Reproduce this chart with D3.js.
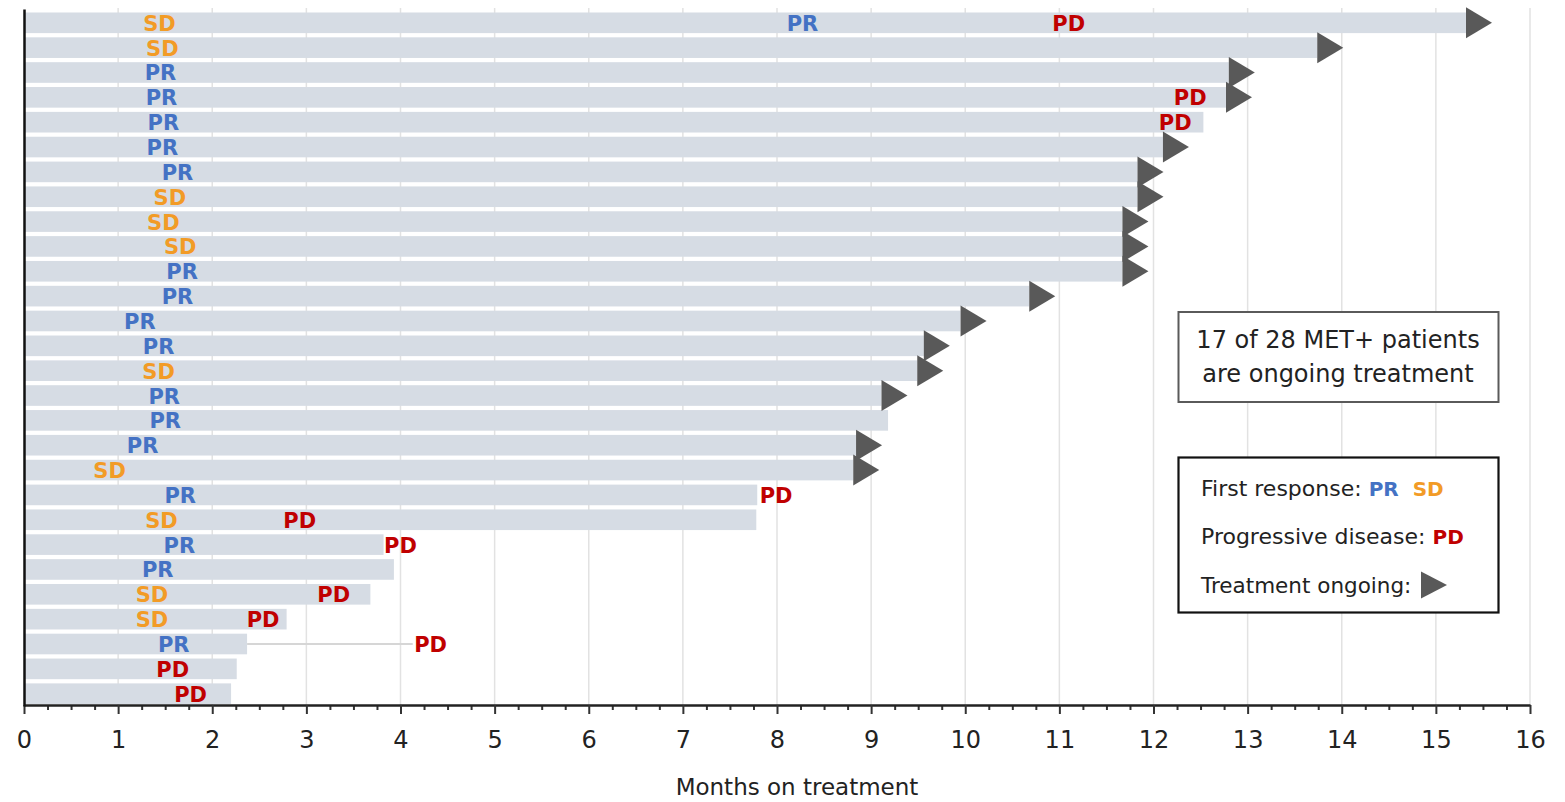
<!DOCTYPE html>
<html>
<head>
<meta charset="utf-8">
<script src="https://cdn.jsdelivr.net/npm/d3@7"></script>
<style>
  body { margin: 0; background: #fff; }
  svg { display: block; }
  text { font-family: "DejaVu Sans", sans-serif; }
</style>
</head>
<body>
<svg id="chart" width="1565" height="802"></svg>
<script>
// Swimmer plot: one row per MET+ patient, ordered by time on treatment.
const patients = d3.range(1, 29);

const monthsOnTreatment = [15.32, 13.74, 12.80, 12.77, 12.53, 12.10, 11.83, 11.83, 11.67, 11.67,
                           11.67, 10.68, 9.95, 9.56, 9.49, 9.11, 9.18, 8.84, 8.81, 7.79,
                           7.78, 3.82, 3.93, 3.68, 2.79, 2.37, 2.26, 2.20];

const ongoing = [true, true, true, true, false, true, true, true, true, true,
                 true, true, true, true, true, true, false, true, true, false,
                 false, false, false, false, false, false, false, false];

const firstResponse = ["SD", "SD", "PR", "PR", "PR", "PR", "PR", "SD", "SD", "SD",
                       "PR", "PR", "PR", "PR", "SD", "PR", "PR", "PR", "SD", "PR",
                       "SD", "PR", "PR", "SD", "SD", "PR", null, null];

const firstResponseMonth = [1.44, 1.47, 1.45, 1.46, 1.48, 1.47, 1.63, 1.55, 1.48, 1.66,
                            1.68, 1.63, 1.23, 1.43, 1.43, 1.49, 1.50, 1.26, 0.91, 1.66,
                            1.46, 1.65, 1.42, 1.36, 1.36, 1.59, null, null];

// Deepened response after initial stable disease
const laterResponse = ["PR", null, null, null, null, null, null, null, null, null,
                       null, null, null, null, null, null, null, null, null, null,
                       null, null, null, null, null, null, null, null];
const laterResponseMonth = [8.27, null, null, null, null, null, null, null, null, null,
                            null, null, null, null, null, null, null, null, null, null,
                            null, null, null, null, null, null, null, null];

const progressionMonth = [11.10, null, null, 12.39, 12.23, null, null, null, null, null,
                          null, null, null, null, null, null, null, null, null, 7.99,
                          2.93, 4.00, null, 3.29, 2.54, 4.32, 1.58, 1.77];

// Follow-up after treatment stopped
const followUpMonth = [null, null, null, null, null, null, null, null, null, null,
                       null, null, null, null, null, null, null, null, null, null,
                       null, null, null, null, null, 4.13, null, null];

const monthTicks = d3.range(0, 17);
const quarterTicks = d3.range(0, 64).map(i => i / 4).filter(v => v % 1 !== 0);

const colors = { PR: "#4472c4", SD: "#f29b26", PD: "#c00000" };

const svg = d3.select("#chart");

const x = d3.scaleLinear().domain([0, 16]).range([24, 1530]);
const y = d3.scaleBand().domain(patients).range([10.5, 706])
  .paddingInner(0.17).paddingOuter(0.08);
const bh = y.bandwidth();
const cy = p => y(p) + bh / 2;

// vertical month gridlines
svg.append("g").selectAll("line")
  .data(monthTicks.filter(m => m > 0))
  .join("line")
  .attr("x1", d => x(d)).attr("x2", d => x(d))
  .attr("y1", 8).attr("y2", 705)
  .attr("stroke", "#e2e2e2").attr("stroke-width", 1.5);

const rows = patients.map((p, i) => ({
  p,
  dur: monthsOnTreatment[i],
  ongoing: ongoing[i],
  follow: followUpMonth[i]
}));

// follow-up line
svg.append("g").selectAll("line")
  .data(rows.filter(r => r.follow != null))
  .join("line")
  .attr("x1", r => x(r.dur)).attr("x2", r => x(r.follow))
  .attr("y1", r => cy(r.p)).attr("y2", r => cy(r.p))
  .attr("stroke", "#d6d6d6").attr("stroke-width", 2);

// treatment bars
svg.append("g").selectAll("rect")
  .data(rows)
  .join("rect")
  .attr("x", x(0))
  .attr("y", r => y(r.p))
  .attr("width", r => x(r.dur) - x(0))
  .attr("height", bh)
  .attr("fill", "#d6dce4");

// ongoing arrows
const arrow = (x0, yc, w, h) => `M${x0},${yc - h / 2}L${x0 + w},${yc}L${x0},${yc + h / 2}Z`;
svg.append("g").selectAll("path")
  .data(rows.filter(r => r.ongoing))
  .join("path")
  .attr("d", r => arrow(x(r.dur), cy(r.p), 26, 31))
  .attr("fill", "#595959");

// response / progression labels
const events = [];
patients.forEach((p, i) => {
  if (firstResponse[i]) events.push({ p, type: firstResponse[i], m: firstResponseMonth[i] });
  if (laterResponse[i]) events.push({ p, type: laterResponse[i], m: laterResponseMonth[i] });
  if (progressionMonth[i] != null) events.push({ p, type: "PD", m: progressionMonth[i] });
});
svg.append("g").selectAll("text")
  .data(events)
  .join("text")
  .attr("x", e => x(e.m))
  .attr("y", e => cy(e.p) + 8)
  .attr("text-anchor", "middle")
  .attr("font-size", 21)
  .attr("font-weight", "bold")
  .attr("fill", e => colors[e.type])
  .text(e => e.type);

// x axis: quarter-month minor ticks and labelled month ticks
const axisG = svg.append("g").attr("transform", "translate(0,705)");
axisG.append("g")
  .call(d3.axisBottom(x).tickValues(quarterTicks).tickSize(5).tickSizeOuter(0).tickFormat(""))
  .call(g => g.select(".domain").remove())
  .call(g => g.selectAll(".tick line").attr("stroke", "#333").attr("stroke-width", 2));
axisG.append("g")
  .call(d3.axisBottom(x).tickValues(monthTicks).tickSize(9).tickSizeOuter(0).tickPadding(17)
    .tickFormat(d3.format("d")))
  .call(g => g.select(".domain").attr("stroke", "#222").attr("stroke-width", 2.5))
  .call(g => g.selectAll(".tick line").attr("stroke", "#333").attr("stroke-width", 2))
  .call(g => g.selectAll(".tick text")
    .attr("font-size", 24).attr("fill", "#222")
    .attr("font-family", "DejaVu Sans, sans-serif"));

// y axis line
svg.append("g").attr("transform", "translate(24,0)")
  .call(d3.axisLeft(d3.scaleLinear().domain([0, 1]).range([706, 9])).tickValues([]).tickSizeOuter(0))
  .call(g => g.select(".domain").attr("stroke", "#111").attr("stroke-width", 2.5));

svg.append("text")
  .attr("x", 797).attr("y", 795)
  .attr("text-anchor", "middle")
  .attr("font-size", 23).attr("fill", "#222")
  .text("Months on treatment");

// summary box
const note = svg.append("g");
note.append("rect")
  .attr("x", 1178.5).attr("y", 312).attr("width", 320).attr("height", 90)
  .attr("fill", "#fff").attr("stroke", "#5a5a5a").attr("stroke-width", 2);
note.selectAll("text")
  .data(["17 of 28 MET+ patients", "are ongoing treatment"])
  .join("text")
  .attr("x", 1338).attr("y", (d, i) => 347.5 + i * 34)
  .attr("text-anchor", "middle")
  .attr("font-size", 24).attr("fill", "#222")
  .text(d => d);

// legend
const legend = svg.append("g");
legend.append("rect")
  .attr("x", 1178.5).attr("y", 457.5).attr("width", 320).attr("height", 155)
  .attr("fill", "#fff").attr("stroke", "#111").attr("stroke-width", 2.2);

const l1 = legend.append("text").attr("x", 1201).attr("y", 495.5)
  .attr("font-size", 22).attr("fill", "#222");
l1.append("tspan").text("First response: ");
l1.append("tspan").attr("font-weight", "bold").attr("font-size", 20).attr("fill", colors.PR).text("PR");
l1.append("tspan").attr("dx", 14).attr("font-weight", "bold").attr("font-size", 20).attr("fill", colors.SD).text("SD");

const l2 = legend.append("text").attr("x", 1201).attr("y", 543.5)
  .attr("font-size", 22).attr("fill", "#222");
l2.append("tspan").text("Progressive disease: ");
l2.append("tspan").attr("font-weight", "bold").attr("font-size", 20).attr("fill", colors.PD).text("PD");

legend.append("text").attr("x", 1201).attr("y", 592.5)
  .attr("font-size", 21.5).attr("fill", "#222")
  .text("Treatment ongoing:");
legend.append("path")
  .attr("d", arrow(1421, 585, 26, 27))
  .attr("fill", "#595959");
</script>
</body>
</html>
